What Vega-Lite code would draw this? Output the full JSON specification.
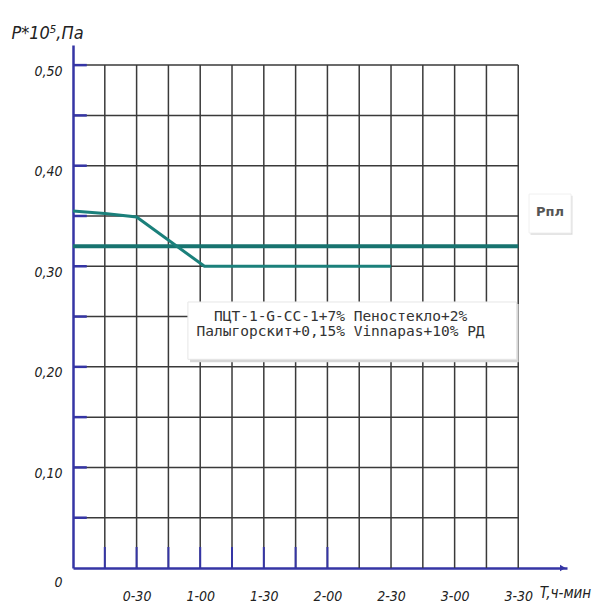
{
  "$schema": "https://vega.github.io/schema/vega-lite/v6.json",
  "width": 494,
  "height": 523,
  "autosize": "none",
  "padding": {"left": 73, "top": 45, "right": 26, "bottom": 38},
  "background": "white",
  "config": {"view": {"stroke": null}},
  "resolve": {"axis": {"x": "independent", "y": "independent"}},
  "datasets": {
    "xgrid": [{"t": 15}, {"t": 30}, {"t": 45}, {"t": 60}, {"t": 75}, {"t": 90}, {"t": 105}, {"t": 120}, {"t": 135}, {"t": 150}, {"t": 165}, {"t": 180}, {"t": 195}, {"t": 210}],
    "ygrid": [{"p": 0.05}, {"p": 0.1}, {"p": 0.15}, {"p": 0.2}, {"p": 0.25}, {"p": 0.3}, {"p": 0.35}, {"p": 0.4}, {"p": 0.45}, {"p": 0.5}],
    "curve": [{"t": 0, "p": 0.355}, {"t": 15, "p": 0.3525}, {"t": 30, "p": 0.349}, {"t": 62, "p": 0.3}, {"t": 150, "p": 0.3}],
    "ppl": [{"t": 0, "p": 0.32}, {"t": 210, "p": 0.32}]
  },
  "layer": [
    {
      "data": {"name": "xgrid"},
      "mark": {"type": "rule", "color": "#3a3a3a", "strokeWidth": 1.5},
      "encoding": {
        "x": {
          "field": "t", "type": "quantitative",
          "scale": {"domain": [0, 233], "nice": false, "zero": false},
          "axis": {
            "values": [30, 60, 90, 120, 150, 180, 210],
            "labelExpr": "floor(datum.value/60) + '-' + (datum.value % 60 == 0 ? '00' : '30')",
            "ticks": false, "grid": false,
            "domainColor": "#3535a5", "domainWidth": 2.5,
            "labelFont": "DejaVu Sans Condensed",
            "labelFontSize": 14, "labelFontStyle": "italic", "labelColor": "#222222",
            "labelPadding": 21, "labelFlush": false, "labelOverlap": false,
            "title": "T,ч-мин", "titleX": 492, "titleY": 24, "titleAlign": "center", "titleBaseline": "middle",
            "titleFont": "DejaVu Sans Condensed",
            "titleFontStyle": "italic", "titleFontWeight": "normal", "titleFontSize": 15, "titleColor": "#222222"
          }
        },
        "y": {
          "datum": 0, "type": "quantitative",
          "scale": {"domain": [0, 0.52], "nice": false, "zero": false},
          "axis": {
            "values": [0, 0.1, 0.2, 0.3, 0.4, 0.5],
            "labelExpr": "datum.value == 0 ? '0' : replace(format(datum.value, '.2f'), '.', ',')",
            "ticks": false, "grid": false,
            "domainColor": "#3535a5", "domainWidth": 2.5,
            "labelFont": "DejaVu Sans Condensed",
            "labelFontSize": 14, "labelFontStyle": "italic", "labelColor": "#222222",
            "labelPadding": 11, "labelFlush": false, "labelOverlap": false,
            "labelOffset": {"condition": {"test": "datum.value == 0", "value": 14}, "value": 6},
            "title": "P*10⁵,Па", "titleAngle": 0, "titleX": -26, "titleY": -12, "titleAlign": "center", "titleBaseline": "middle",
            "titleFont": "DejaVu Sans Condensed",
            "titleFontStyle": "italic", "titleFontWeight": "normal", "titleFontSize": 18, "titleColor": "#222222"
          }
        },
        "y2": {"datum": 0.5}
      }
    },
    {
      "data": {"name": "ygrid"},
      "mark": {"type": "rule", "color": "#3a3a3a", "strokeWidth": 1.5},
      "encoding": {
        "y": {"field": "p", "type": "quantitative", "scale": {"domain": [0, 0.52], "nice": false, "zero": false}, "axis": null},
        "x": {"datum": 0, "type": "quantitative", "scale": {"domain": [0, 233], "nice": false, "zero": false}, "axis": null},
        "x2": {"datum": 210}
      }
    },
    {
      "data": {"values": [{}]},
      "mark": {"type": "rect", "color": "#d6d6d6"},
      "encoding": {
        "x": {"datum": 55.2, "type": "quantitative", "scale": {"domain": [0, 233], "nice": false, "zero": false}, "axis": null},
        "x2": {"datum": 210.2},
        "y": {"datum": 0.2625, "type": "quantitative", "scale": {"domain": [0, 0.52], "nice": false, "zero": false}, "axis": null},
        "y2": {"datum": 0.2045}
      }
    },
    {
      "data": {"values": [{}]},
      "mark": {"type": "rect", "color": "white", "stroke": "#e6e6e6", "strokeWidth": 1},
      "encoding": {
        "x": {"datum": 54.2, "type": "quantitative", "scale": {"domain": [0, 233], "nice": false, "zero": false}, "axis": null},
        "x2": {"datum": 209.2},
        "y": {"datum": 0.2645, "type": "quantitative", "scale": {"domain": [0, 0.52], "nice": false, "zero": false}, "axis": null},
        "y2": {"datum": 0.2075}
      }
    },
    {
      "data": {"values": [{}]},
      "mark": {"type": "text", "font": "DejaVu Sans Mono", "fontSize": 14.5, "color": "#333333", "align": "center", "baseline": "alphabetic", "lineBreak": "\n", "lineHeight": 15.5},
      "encoding": {
        "x": {"datum": 126.2, "type": "quantitative", "scale": {"domain": [0, 233], "nice": false, "zero": false}, "axis": null},
        "y": {"datum": 0.2456, "type": "quantitative", "scale": {"domain": [0, 0.52], "nice": false, "zero": false}, "axis": null},
        "text": {"value": "ПЦТ-1-G-CC-1+7% Пеностекло+2%\nПалыгорскит+0,15% Vinnapas+10% РД"}
      }
    },
    {
      "data": {"values": [{}]},
      "mark": {"type": "rect", "color": "#dddddd", "clip": false},
      "encoding": {
        "x": {"datum": 215.8, "type": "quantitative", "scale": {"domain": [0, 233], "nice": false, "zero": false}, "axis": null},
        "x2": {"datum": 235.6},
        "y": {"datum": 0.3702, "type": "quantitative", "scale": {"domain": [0, 0.52], "nice": false, "zero": false}, "axis": null},
        "y2": {"datum": 0.3313}
      }
    },
    {
      "data": {"values": [{}]},
      "mark": {"type": "rect", "color": "white", "stroke": "#f0f0f0", "strokeWidth": 1},
      "encoding": {
        "x": {"datum": 215.1, "type": "quantitative", "scale": {"domain": [0, 233], "nice": false, "zero": false}, "axis": null},
        "x2": {"datum": 234.9},
        "y": {"datum": 0.3718, "type": "quantitative", "scale": {"domain": [0, 0.52], "nice": false, "zero": false}, "axis": null},
        "y2": {"datum": 0.3331}
      }
    },
    {
      "data": {"values": [{}]},
      "mark": {"type": "text", "font": "DejaVu Sans", "fontSize": 13, "fontWeight": "bold", "color": "#555555", "align": "center", "baseline": "middle"},
      "encoding": {
        "x": {"datum": 225.0, "type": "quantitative", "scale": {"domain": [0, 233], "nice": false, "zero": false}, "axis": null},
        "y": {"datum": 0.354, "type": "quantitative", "scale": {"domain": [0, 0.52], "nice": false, "zero": false}, "axis": null},
        "text": {"value": "Рпл"}
      }
    },
    {
      "data": {"name": "ppl"},
      "mark": {"type": "line", "color": "#17736f", "strokeWidth": 4},
      "encoding": {
        "x": {"field": "t", "type": "quantitative", "scale": {"domain": [0, 233], "nice": false, "zero": false}, "axis": null},
        "y": {"field": "p", "type": "quantitative", "scale": {"domain": [0, 0.52], "nice": false, "zero": false}, "axis": null}
      }
    },
    {
      "data": {"name": "curve"},
      "mark": {"type": "line", "color": "#1b807b", "strokeWidth": 3},
      "encoding": {
        "x": {"field": "t", "type": "quantitative", "scale": {"domain": [0, 233], "nice": false, "zero": false}, "axis": null},
        "y": {"field": "p", "type": "quantitative", "scale": {"domain": [0, 0.52], "nice": false, "zero": false}, "axis": null}
      }
    },
    {
      "data": {"name": "ygrid"},
      "mark": {"type": "rule", "color": "#3535a5", "strokeWidth": 2.5},
      "encoding": {
        "y": {"field": "p", "type": "quantitative", "scale": {"domain": [0, 0.52], "nice": false, "zero": false}, "axis": null},
        "x": {"datum": 0, "type": "quantitative", "scale": {"domain": [0, 233], "nice": false, "zero": false}, "axis": null},
        "x2": {"datum": 6.5}
      }
    },
    {
      "data": {"name": "xgrid"},
      "transform": [{"filter": "datum.t <= 120"}],
      "mark": {"type": "rule", "color": "#3535a5", "strokeWidth": 2},
      "encoding": {
        "x": {"field": "t", "type": "quantitative", "scale": {"domain": [0, 233], "nice": false, "zero": false}, "axis": null},
        "y": {"datum": 0, "type": "quantitative", "scale": {"domain": [0, 0.52], "nice": false, "zero": false}, "axis": null},
        "y2": {"datum": 0.0209}
      }
    },
    {
      "data": {"values": [{}]},
      "mark": {"type": "point", "shape": "triangle-right", "filled": true, "color": "#3535a5", "size": 40, "opacity": 1},
      "encoding": {
        "x": {"datum": 231, "type": "quantitative", "scale": {"domain": [0, 233], "nice": false, "zero": false}, "axis": null},
        "y": {"datum": 0, "type": "quantitative", "scale": {"domain": [0, 0.52], "nice": false, "zero": false}, "axis": null}
      }
    }
  ]
}
